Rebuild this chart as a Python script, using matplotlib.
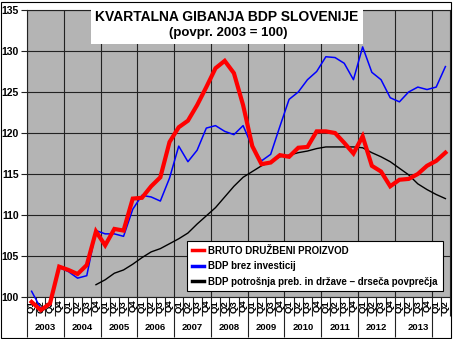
import numpy as np
import matplotlib
matplotlib.use('Agg')
import matplotlib.pyplot as plt
from matplotlib.lines import Line2D
from matplotlib.patches import Rectangle

plt.rcParams['font.family'] = ['Liberation Sans', 'DejaVu Sans']
plt.rcParams['font.weight'] = 'bold'

# quarters 2003Q1 .. 2014Q2
years = ['2003', '2004', '2005', '2006', '2007', '2008',
         '2009', '2010', '2011', '2012', '2013']
quarters = ['Q1', 'Q2', 'Q3', 'Q4'] * 11 + ['Q1', 'Q2']

bdp = [99.4, 98.4, 99.2, 103.7, 103.3, 102.8, 103.9, 108.0, 106.3, 108.3,
       108.1, 112.0, 112.1, 113.5, 114.6, 118.9, 120.7, 121.5, 123.4, 125.6,
       127.9, 128.8, 127.3, 123.4, 118.4, 116.2, 116.4, 117.3, 117.1, 118.2,
       118.3, 120.2, 120.2, 120.0, 118.8, 117.5, 119.6, 116.0, 115.3, 113.5,
       114.3, 114.4, 115.0, 116.0, 116.6, 117.6]

bdp_brez_inv = [100.7, 98.6, 99.0, 103.6, 103.1, 102.3, 102.6, 108.1, 107.7, 107.7,
                107.4, 110.7, 112.4, 112.2, 111.7, 114.5, 118.4, 116.5, 117.9, 120.6,
                120.9, 120.2, 119.8, 120.9, 118.3, 116.6, 117.4, 120.8, 124.1, 125.0,
                126.5, 127.5, 129.3, 129.2, 128.5, 126.5, 130.5, 127.4, 126.5, 124.3,
                123.8, 125.0, 125.6, 125.3, 125.6, 128.1]

bdp_potrosnja = [np.nan] * 7 + [101.5, 102.1, 102.9,
                 103.3, 104.0, 104.8, 105.5, 105.9, 106.5, 107.1, 107.8, 108.9, 109.9,
                 110.9, 112.2, 113.5, 114.6, 115.3, 116.0, 116.5, 117.1, 117.3, 117.6,
                 117.8, 118.1, 118.3, 118.3, 118.3, 118.3, 118.2, 117.6, 117.1, 116.5,
                 115.7, 114.9, 113.8, 113.1, 112.5, 112.0]

labels = ['BRUTO DRUŽBENI PROIZVOD', 'BDP brez investicij',
          'BDP potrošnja preb. in države – drseča povprečja']

n = len(quarters)
x = np.arange(n) + 0.5

W, H = 453, 339
fig = plt.figure(figsize=(W / 100, H / 100), dpi=100)
ax = fig.add_axes([27 / W, 1 - 297 / H, 423 / W, 287 / H])
ax.set_facecolor('#b4b4b4')

ax.plot(x, bdp_potrosnja, color='black', lw=1.0, clip_on=False, zorder=3)
ax.plot(x, bdp_brez_inv, color='#0000ff', lw=1.1, clip_on=False, zorder=4)
ax.plot(x, bdp, color='#ff0000', lw=3.0, clip_on=False, zorder=5,
        solid_joinstyle='miter')

ax.set_xlim(0, n)
ax.set_ylim(100, 135)
ax.set_yticks(np.arange(100, 136, 5))
ax.tick_params(axis='y', length=4, width=0.8, color='#222222', labelsize=7.5, pad=2)
for t in ax.get_yticklabels():
    t.set_fontweight('bold')

# category ticks: long at year borders, short at quarter borders
ax.set_xticks(np.arange(0, n, 4))
ax.set_xticks(np.arange(0, n + 1, 1), minor=True)
ax.tick_params(axis='x', which='major', length=29, width=0.8, color='#222222',
               labelbottom=False)
ax.tick_params(axis='x', which='minor', length=14, width=0.8, color='#222222')
ax.grid(True, which='major', color='#222222', lw=0.8)
ax.set_axisbelow(True)
for s in ax.spines.values():
    s.set_color('#222222')
    s.set_linewidth(0.8)

xt = ax.get_xaxis_transform()
for xi, q in zip(x, quarters):
    ax.text(xi, -0.01, q, transform=xt, rotation=90, ha='center', va='top',
            fontsize=6.8, fontweight='bold')
for k, y in enumerate(years):
    xc = 4 * k + 2 if k < len(years) - 1 else (4 * k + n) / 2 - 0.4
    ax.text(xc, -0.107, y, transform=xt, ha='center', va='center',
            fontsize=6.8, fontweight='bold')

# title box
fig.patches.append(Rectangle((91 / W, 1 - 44 / H), 272 / W, 39 / H,
                             transform=fig.transFigure, facecolor='white',
                             edgecolor='none', zorder=10))
fig.text(227 / W, 1 - 17 / H, 'KVARTALNA GIBANJA BDP SLOVENIJE', ha='center',
         va='center', fontsize=10, fontweight='bold', zorder=11)
fig.text(228 / W, 1 - 33 / H, '(povpr. 2003 = 100)', ha='center',
         va='center', fontsize=9.5, fontweight='bold', zorder=11)

handles = [Line2D([], [], color=c, lw=2.5) for c in ['#ff0000', '#0000ff', 'black']]
leg = ax.legend(handles, labels, loc='upper left',
                bbox_to_anchor=(187 / W, 1 - 241 / H), bbox_transform=fig.transFigure,
                fancybox=False, framealpha=1, edgecolor='black', borderaxespad=0,
                prop={'size': 7, 'weight': 'bold'}, handlelength=1.2,
                handletextpad=0.5, labelspacing=0.55, borderpad=0.5)
leg.get_frame().set_linewidth(0.8)
leg.set_zorder(20)

# outer chart border
fig.patches.append(Rectangle((1 / W, 1 / H), (W - 3) / W, (H - 3) / H,
                             transform=fig.transFigure, facecolor='none',
                             edgecolor='black', lw=0.8))

fig.savefig('out.png', dpi=100)
